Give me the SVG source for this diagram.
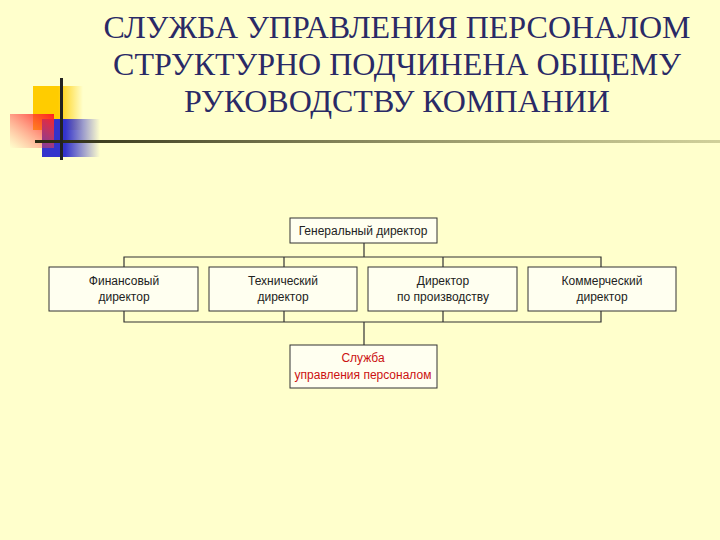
<svg xmlns="http://www.w3.org/2000/svg" width="720" height="540" viewBox="0 0 720 540">
<defs>
<linearGradient id="gy" x1="0" x2="1"><stop offset="0.5" stop-color="#ffcc00"/><stop offset="1" stop-color="#ffcc00" stop-opacity="0"/></linearGradient>
<linearGradient id="gb" x1="0" x2="1"><stop offset="0.4" stop-color="#3333cc"/><stop offset="1" stop-color="#3333cc" stop-opacity="0"/></linearGradient>
<linearGradient id="gr" x1="1" x2="0" y1="0" y2="1"><stop offset="0" stop-color="#ff2020"/><stop offset="1" stop-color="#ff6060" stop-opacity="0"/></linearGradient>
<linearGradient id="gl" x1="0" x2="1"><stop offset="0" stop-color="#2a2a10"/><stop offset="1" stop-color="#8a8a50" stop-opacity="0.4"/></linearGradient>
<style>
.b{fill:#fffff0;stroke:#333;stroke-width:1}
.t{font-family:"Liberation Sans",Arial,sans-serif;font-size:12px;fill:#222;text-anchor:middle}
.c{stroke:#333;stroke-width:1.2;fill:none}
.h{font-family:"Liberation Serif","Times New Roman",serif;font-size:32px;fill:#2a2a66;text-anchor:middle}
</style>
</defs>
<rect width="720" height="540" fill="#ffffcc"/>
<rect x="33" y="86" width="50" height="44" fill="url(#gy)"/>
<rect x="42" y="119" width="58" height="38" fill="url(#gb)"/>
<rect x="10" y="114" width="44" height="34" fill="url(#gr)"/>
<rect x="35" y="140" width="685" height="3" fill="url(#gl)"/>
<rect x="60" y="78" width="3" height="82" fill="#222"/>
<text class="h" x="397" y="38">СЛУЖБА УПРАВЛЕНИЯ ПЕРСОНАЛОМ</text>
<text class="h" x="397" y="75">СТРУКТУРНО ПОДЧИНЕНА ОБЩЕМУ</text>
<text class="h" x="397" y="112">РУКОВОДСТВУ КОМПАНИИ</text>
<g id="connectors">
<path class="c" d="M364 243V257M124 267V257H601V267M284 257V267M443 257V267"/>
<path class="c" d="M124 311V322H601V311M284 311V322M443 311V322M364 322V345"/>
</g>
<g id="gen"><rect class="b" x="290" y="218" width="147" height="25"/><text class="t" x="363" y="235">Генеральный директор</text></g>
<g id="fin"><rect class="b" x="49" y="267" width="149" height="44"/><text class="t" x="124" y="285">Финансовый</text><text class="t" x="124" y="301">директор</text></g>
<g id="tech"><rect class="b" x="209" y="267" width="148" height="44"/><text class="t" x="283" y="285">Технический</text><text class="t" x="283" y="301">директор</text></g>
<g id="prod"><rect class="b" x="368" y="267" width="149" height="44"/><text class="t" x="443" y="285">Директор</text><text class="t" x="443" y="301">по производству</text></g>
<g id="comm"><rect class="b" x="528" y="267" width="148" height="44"/><text class="t" x="602" y="285">Коммерческий</text><text class="t" x="602" y="301">директор</text></g>
<g id="hr"><rect class="b" x="290" y="345" width="147" height="43"/><text class="t" x="363" y="362" style="fill:#cc1111">Служба</text><text class="t" x="363" y="379" style="fill:#cc1111">управления персоналом</text></g>
</svg>
